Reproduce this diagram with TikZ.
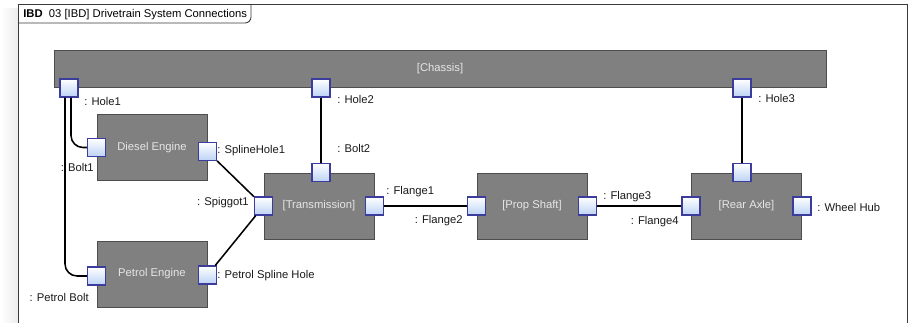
\documentclass[tikz,border=0pt]{standalone}
\usepackage{fontspec}
\setmainfont{Liberation Sans}
\usetikzlibrary{positioning, calc}
\usepackage{xcolor}
\definecolor{BlockFill}{HTML}{808080}
\definecolor{BlockEdge}{HTML}{4D4D4D}
\definecolor{BlockText}{HTML}{E6E6E6}
\definecolor{PortEdge}{HTML}{3C3C9C}
\definecolor{PortFill}{HTML}{BCD2F5}
\definecolor{FrameLine}{HTML}{3A3A3A}
\definecolor{LabelText}{HTML}{1A1A1A}

\begin{document}
\begin{tikzpicture}[
            font=\fontsize{8}{9.6}\selectfont,
            part/.style={rectangle, draw=BlockEdge, line width=0.7pt, fill=BlockFill, minimum width=2.75cm, minimum height=1.65cm, text=BlockText, inner sep=0pt},
            port/.style={rectangle, draw=PortEdge, line width=0.8pt, top color=white, bottom color=PortFill, minimum size=0.45cm, inner sep=0pt},
            wire/.style={line width=1.1pt, color=black, rounded corners=0.3cm},
            lbl/.style={text=LabelText, inner sep=0pt}
        ]
            \useasboundingbox (0,0) rectangle (22.75,-8.05);
            \fill[white] (0,0) rectangle (22.75,-8.05);
            \shade[left color=white, right color=black!7] (0,-0.2) rectangle (0.45,-8.05);

            % Diagram frame
            \draw[FrameLine, line width=0.6pt] (0.45,-8.2) |- (22.675,-0.1) -- (22.675,-8.2);
            \draw[FrameLine, line width=0.6pt, rounded corners=0.15cm] (0.45,-0.575) -- (6.275,-0.575) -- (6.275,-0.1);
            \node[anchor=west, inner sep=0pt] (title) at (0.575,-0.36) {\textbf{IBD}\ \ 03 [IBD] Drivetrain System Connections};

            % Parts
            \node[part, minimum width=19.3cm, minimum height=0.925cm] (chassis) at (11.0,-1.7125) {[Chassis]};
            \node[part] (diesel) at (3.8,-3.6875) {Diesel Engine};
            \node[part] (petrol) at (3.8,-6.85) {Petrol Engine};
            \node[part] (transmission) at (7.975,-5.15) {[Transmission]};
            \node[part] (propshaft) at (13.3,-5.15) {[Prop Shaft]};
            \node[part] (rearaxle) at (18.6625,-5.15) {[Rear Axle]};

            % Ports
            \node[port] (hole1) at (1.725,-2.2) {};
            \node[port] (hole2) at (8.025,-2.2) {};
            \node[port] (hole3) at (18.55,-2.2) {};
            \node[port] (bolt1) at (diesel.west) {};
            \node[port] (splinehole1) at ([yshift=-0.1cm]diesel.east) {};
            \node[port] (petrolbolt) at ([yshift=-0.05cm]petrol.west) {};
            \node[port] (petrolspline) at ([yshift=-0.025cm]petrol.east) {};
            \node[port] (bolt2) at (hole2 |- transmission.north) {};
            \node[port] (spiggot1) at (transmission.west) {};
            \node[port] (flange1) at (transmission.east) {};
            \node[port] (flange2) at (propshaft.west) {};
            \node[port] (flange3) at (propshaft.east) {};
            \node[port] (flange4) at (rearaxle.west) {};
            \node[port] (axlehole) at (hole3 |- rearaxle.north) {};
            \node[port] (wheelhub) at (rearaxle.east) {};

            % Port names
            \node[lbl, anchor=west] (hole1lbl) at (2.1,-2.525) {: Hole1};
            \node[lbl, anchor=east] (bolt1lbl) at (2.35,-4.175) {: Bolt1};
            \node[lbl, anchor=west] (splinehole1lbl) at (5.425,-3.775) {: SplineHole1};
            \node[lbl, anchor=east] (spiggot1lbl) at (6.225,-5.075) {: Spiggot1};
            \node[lbl, anchor=west] (petrolsplinelbl) at (5.425,-6.9) {: Petrol Spline Hole};
            \node[lbl, anchor=east] (petrolboltlbl) at (2.225,-7.425) {: Petrol Bolt};
            \node[lbl, anchor=west] (hole2lbl) at (8.425,-2.475) {: Hole2};
            \node[lbl, anchor=west] (bolt2lbl) at (8.425,-3.7) {: Bolt2};
            \node[lbl, anchor=west] (flange1lbl) at (9.65,-4.8) {: Flange1};
            \node[lbl, anchor=east] (flange2lbl) at (11.575,-5.525) {: Flange2};
            \node[lbl, anchor=west] (flange3lbl) at (15.075,-4.925) {: Flange3};
            \node[lbl, anchor=east] (flange4lbl) at (16.975,-5.55) {: Flange4};
            \node[lbl, anchor=west] (hole3lbl) at (18.95,-2.45) {: Hole3};
            \node[lbl, anchor=west] (wheelhublbl) at (20.425,-5.175) {: Wheel Hub};

            % Connectors
            \draw[wire] ([xshift=0.05cm]hole1.south) |- (bolt1);
            \draw[wire] ([xshift=-0.1cm]hole1.south) |- (petrolbolt);
            \draw[wire] (splinehole1) -- (spiggot1);
            \draw[wire] (petrolspline) -- (spiggot1);
            \draw[wire] (hole2) -- (bolt2);
            \draw[wire] (flange1) -- (flange2);
            \draw[wire] (flange3) -- (flange4);
            \draw[wire] (hole3) -- (axlehole);
        \end{tikzpicture}
\end{document}
